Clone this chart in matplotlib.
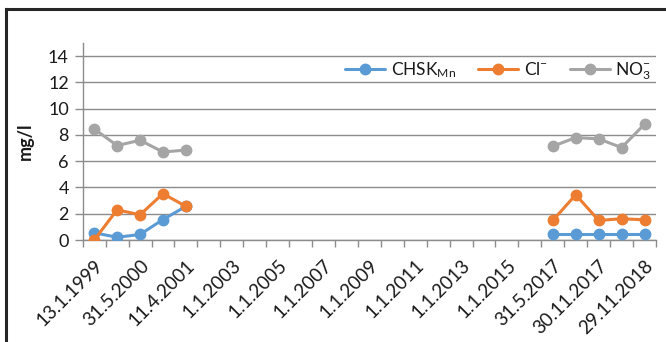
import numpy as np
import matplotlib
matplotlib.use('Agg')
import matplotlib.pyplot as plt
from matplotlib.lines import Line2D

plt.rcParams['font.family'] = ['Lato', 'DejaVu Sans']
plt.rcParams['mathtext.fontset'] = 'custom'
plt.rcParams['mathtext.rm'] = 'Lato'
plt.rcParams['mathtext.it'] = 'Lato'

nan = np.nan

# 25 sampling slots, a label on every second one
tick_labels = ['13.1.1999', '31.5.2000', '11.4.2001', '1.1.2003', '1.1.2005',
               '1.1.2007', '1.1.2009', '1.1.2011', '1.1.2013', '1.1.2015',
               '31.5.2017', '30.11.2017', '29.11.2018']
n_slots = 25

chsk = [0.55, 0.21, 0.42, 1.56, 2.56] + [nan] * 15 + [0.42, 0.42, 0.42, 0.42, 0.42]
cl = [0.0, 2.3, 1.92, 3.53, 2.56] + [nan] * 15 + [1.49, 3.45, 1.49, 1.62, 1.54]
no3 = [8.46, 7.19, 7.6, 6.7, 6.85] + [nan] * 15 + [7.14, 7.8, 7.7, 7.04, 8.82]

series = [
    (chsk, '#5B9BD5', r'CHSK$_{\mathrm{Mn}}$'),
    (cl, '#ED7D31', r'Cl$^{-}$'),
    (no3, '#A5A5A5', r'NO$_{3}^{-}$'),
]

fig = plt.figure(figsize=(6.66, 3.42), dpi=100)
ax = fig.add_axes([0.1242, 0.2982, 0.8608, 0.5760])

x = np.arange(n_slots)
for vals, col, name in series:
    ax.plot(x, vals, color=col, lw=2.2, marker='o', ms=7.5, label=name,
            solid_capstyle='round', zorder=3)

ax.set_xlim(-0.5, n_slots - 0.5)
ax.set_ylim(0, 15)
ax.set_yticks(np.arange(0, 15, 2))
ax.grid(axis='y', color='#8c8c8c', lw=1.0)
ax.set_axisbelow(True)

for s in ['top', 'right']:
    ax.spines[s].set_visible(False)
for s in ['left', 'bottom']:
    ax.spines[s].set_color('#8c8c8c')
    ax.spines[s].set_linewidth(1.0)

# ticks sit between slots, labels under every other slot
ax.set_xticks(np.arange(-0.5, n_slots, 1.0))
ax.set_xticklabels([])
ax.set_xticks(np.arange(0, n_slots, 2), minor=True)
ax.set_xticklabels(tick_labels, minor=True, rotation=45, ha='right',
                   rotation_mode='anchor', fontsize=13.5, color='#1a1a1a')
ax.tick_params(axis='x', which='minor', length=0, pad=12)
ax.tick_params(axis='x', which='major', length=5, color='#8c8c8c', width=1.0)
ax.tick_params(axis='y', length=6, color='#8c8c8c', width=1.0,
               labelsize=13, labelcolor='#1a1a1a', pad=4)

ax.set_ylabel('mg/l', fontsize=13, fontweight='bold', color='#1a1a1a', labelpad=10)

leg = fig.legend(loc='center', bbox_to_anchor=(0.748, 0.792), ncol=3,
                 frameon=False, fontsize=12.5, handlelength=2.3,
                 columnspacing=1.3, handletextpad=0.3)
for t in leg.get_texts():
    t.set_color('#1a1a1a')

# chart frame edges
fig.add_artist(Line2D([6 / 666, 1.0], [1 - 8.5 / 342, 1 - 8.5 / 342],
                      color='#262626', lw=2.2, transform=fig.transFigure))
fig.add_artist(Line2D([6 / 666, 6 / 666], [0.0, 1 - 8.5 / 342],
                      color='#262626', lw=2.2, transform=fig.transFigure))

fig.savefig('out.png', dpi=100, facecolor='white')
